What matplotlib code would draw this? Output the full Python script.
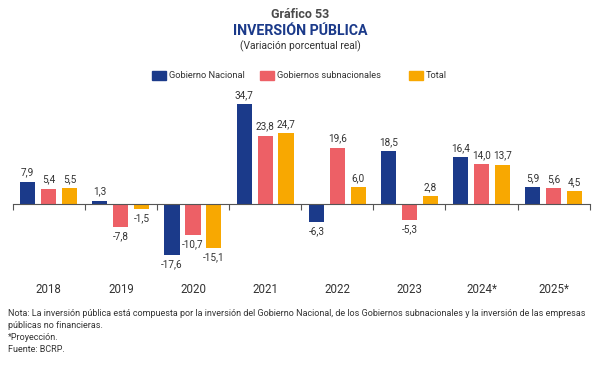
import numpy as np
import matplotlib.pyplot as plt
from matplotlib.patches import Rectangle

### Datos ###
anios = ['2018', '2019', '2020', '2021', '2022', '2023', '2024*', '2025*']
series = ['Gobierno Nacional', 'Gobiernos subnacionales', 'Total']
gob_nacional = [7.9, 1.3, -17.6, 34.7, -6.3, 18.5, 16.4, 5.9]
gob_subnac = [5.4, -7.8, -10.7, 23.8, 19.6, -5.3, 14.0, 5.6]
total = [5.5, -1.5, -15.1, 24.7, 6.0, 2.8, 13.7, 4.5]

colores = ['#1b3a8a', '#ed6066', '#f8a801']
gris = '#333333'

plt.rcParams['font.family'] = ['Roboto', 'DejaVu Sans']

fig = plt.figure(figsize=(6, 3.65), dpi=100)
ax = fig.add_axes([0.021, 0.243, 0.962, 0.513])

x = np.arange(len(anios))
desp = 0.29
ancho = 0.21
for k, (vals, col) in enumerate(zip([gob_nacional, gob_subnac, total], colores)):
    pos = x + (k - 1) * desp
    ax.bar(pos, vals, width=ancho, color=col, zorder=2)
    for p, v in zip(pos, vals):
        txt = f'{v:.1f}'.replace('.', ',')
        if v >= 0:
            ax.annotate(txt, (p, v), xytext=(0, 3), textcoords='offset points',
                        ha='center', va='bottom', fontsize=7.2, color=gris)
        else:
            ax.annotate(txt, (p, v), xytext=(0, -3), textcoords='offset points',
                        ha='center', va='top', fontsize=7.2, color=gris)

ax.set_xlim(-0.5, len(anios) - 0.5)
ax.set_ylim(-25, 40)
for s in ['top', 'right', 'left']:
    ax.spines[s].set_visible(False)
ax.spines['bottom'].set_position(('data', 0))
ax.spines['bottom'].set_color('#555555')
ax.spines['bottom'].set_linewidth(0.8)
ax.set_yticks([])
ax.set_xticks(np.arange(len(anios) + 1) - 0.5)
ax.set_xticklabels([])
ax.tick_params(axis='x', direction='out', length=4, color='#555555', width=0.8)

for xi, a in zip(x, anios):
    ax.text(xi, -29.5, a, ha='center', va='center', fontsize=8.3, color=gris, clip_on=False)

# Titulos
fig.text(0.5, 1 - 15 / 365, 'Gráfico 53', ha='center', va='center', fontsize=9,
         fontweight='bold', color='#4a4a4a')
fig.text(0.5, 1 - 31 / 365, 'INVERSIÓN PÚBLICA', ha='center', va='center', fontsize=10.2,
         fontweight='bold', color=colores[0])
fig.text(0.5, 1 - 46 / 365, '(Variación porcentual real)', ha='center', va='center',
         fontsize=7.4, color=gris)

# Leyenda
ley_x = [152, 260, 409]
for lx, nom, col in zip(ley_x, series, colores):
    fig.patches.append(Rectangle((lx / 600, 1 - 80 / 365), 14 / 600, 9 / 365,
                                 transform=fig.transFigure, color=col))
    fig.text((lx + 17) / 600, 1 - 75.5 / 365, nom, ha='left', va='center',
             fontsize=6.7, color=gris)

# Notas
notas = ['Nota: La inversión pública está compuesta por la inversión del Gobierno Nacional, de los Gobiernos subnacionales y la inversión de las empresas',
         'públicas no financieras.',
         '*Proyección.',
         'Fuente: BCRP.']
for i, n in enumerate(notas):
    fig.text(8 / 600, 1 - (313 + 12 * i) / 365, n, ha='left', va='center',
             fontsize=6.5, color=gris)

fig.savefig('out.png', dpi=100)
